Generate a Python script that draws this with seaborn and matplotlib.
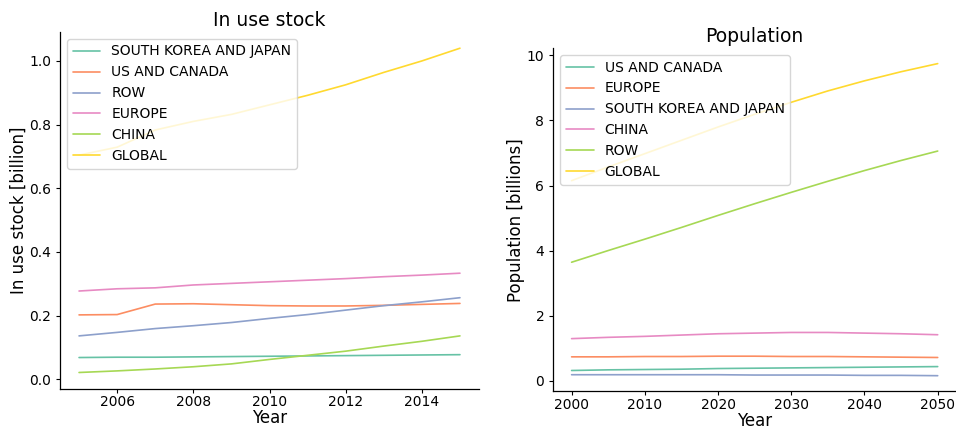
import numpy as np
import pandas as pd
import matplotlib
matplotlib.use("Agg")
import matplotlib.pyplot as plt
import seaborn as sns

# In-use stock by region, 2005-2015 [billion]
stock_years = list(range(2005, 2016))
stock_skj = [0.068, 0.069, 0.069, 0.070, 0.071, 0.072, 0.073, 0.074, 0.075, 0.076, 0.077]
stock_us = [0.202, 0.203, 0.236, 0.237, 0.234, 0.231, 0.230, 0.230, 0.232, 0.235, 0.238]
stock_row = [0.136, 0.147, 0.159, 0.168, 0.178, 0.191, 0.203, 0.217, 0.231, 0.243, 0.256]
stock_europe = [0.277, 0.284, 0.287, 0.296, 0.301, 0.306, 0.311, 0.316, 0.322, 0.327, 0.333]
stock_china = [0.021, 0.026, 0.032, 0.039, 0.048, 0.062, 0.075, 0.088, 0.104, 0.119, 0.136]
stock_global = [0.704, 0.729, 0.783, 0.810, 0.832, 0.862, 0.892, 0.925, 0.964, 1.000, 1.040]
stock_regions = ["SOUTH KOREA AND JAPAN", "US AND CANADA", "ROW", "EUROPE", "CHINA", "GLOBAL"]

# Population by region, 2000-2050 [billions]
pop_years = list(range(2000, 2051, 5))
pop_us = [0.31, 0.33, 0.34, 0.35, 0.37, 0.38, 0.39, 0.40, 0.41, 0.42, 0.43]
pop_europe = [0.73, 0.73, 0.74, 0.74, 0.75, 0.75, 0.74, 0.74, 0.73, 0.72, 0.71]
pop_skj = [0.18, 0.18, 0.18, 0.18, 0.18, 0.17, 0.17, 0.17, 0.16, 0.16, 0.15]
pop_china = [1.29, 1.33, 1.36, 1.40, 1.44, 1.46, 1.48, 1.48, 1.46, 1.44, 1.41]
pop_row = [3.64, 4.00, 4.35, 4.71, 5.08, 5.44, 5.79, 6.13, 6.46, 6.77, 7.06]
pop_global = [6.15, 6.57, 6.98, 7.39, 7.80, 8.19, 8.56, 8.91, 9.22, 9.50, 9.75]
pop_regions = ["US AND CANADA", "EUROPE", "SOUTH KOREA AND JAPAN", "CHINA", "ROW", "GLOBAL"]


def long_frame(years, series, regions):
    rows = []
    for region, values in zip(regions, series):
        for y, v in zip(years, values):
            rows.append({"Year": y, "Value": v, "Region": region})
    return pd.DataFrame(rows)


stock_df = long_frame(stock_years,
                      [stock_skj, stock_us, stock_row, stock_europe, stock_china, stock_global],
                      stock_regions)
pop_df = long_frame(pop_years,
                    [pop_us, pop_europe, pop_skj, pop_china, pop_row, pop_global],
                    pop_regions)

sns.set_style("ticks")
plt.rcParams["font.family"] = ["DejaVu Sans"]
plt.rcParams["text.color"] = "black"
plt.rcParams["axes.labelcolor"] = "black"
palette = sns.color_palette("Set2", 6)

W, H = 956, 428
fig = plt.figure(figsize=(W / 100, H / 100), dpi=100)
ax1 = fig.add_axes([60 / W, 1 - 388.7 / H, (479 - 60) / W, (388.7 - 32) / H])
ax2 = fig.add_axes([553.3 / W, 1 - 391.3 / H, (956 - 553.3) / W, (391.3 - 48) / H])

for ax, df, order, title, ylabel in [
    (ax1, stock_df, stock_regions, "In use stock", "In use stock [billion]"),
    (ax2, pop_df, pop_regions, "Population", "Population [billions]"),
]:
    sns.lineplot(data=df, x="Year", y="Value", hue="Region", hue_order=order,
                 palette=palette, linewidth=1.2, ax=ax)
    ax.set_title(title, fontsize=13.5, color="black", pad=4)
    ax.set_xlabel("Year", fontsize=12, color="black", labelpad=0)
    ax.set_ylabel(ylabel, fontsize=12, color="black", labelpad=1)
    ax.tick_params(labelsize=10, length=3, width=0.8, colors="black")
    ax.tick_params(axis="x", pad=1.5)
    for s in ax.spines.values():
        s.set_color("black")
        s.set_linewidth(0.9)
    leg = ax.legend(loc="upper left", fontsize=10, title=None, framealpha=0.8)
    for text in leg.get_texts():
        text.set_color("black")
    for line in leg.get_lines():
        line.set_linewidth(1.2)
    sns.despine(ax=ax)

ax1.set_xticks([2006, 2008, 2010, 2012, 2014])
ax1.set_yticks([0.0, 0.2, 0.4, 0.6, 0.8, 1.0])
ax2.set_xticks([2000, 2010, 2020, 2030, 2040, 2050])
ax2.set_yticks([0, 2, 4, 6, 8, 10])

fig.savefig("out.png", dpi=100)
